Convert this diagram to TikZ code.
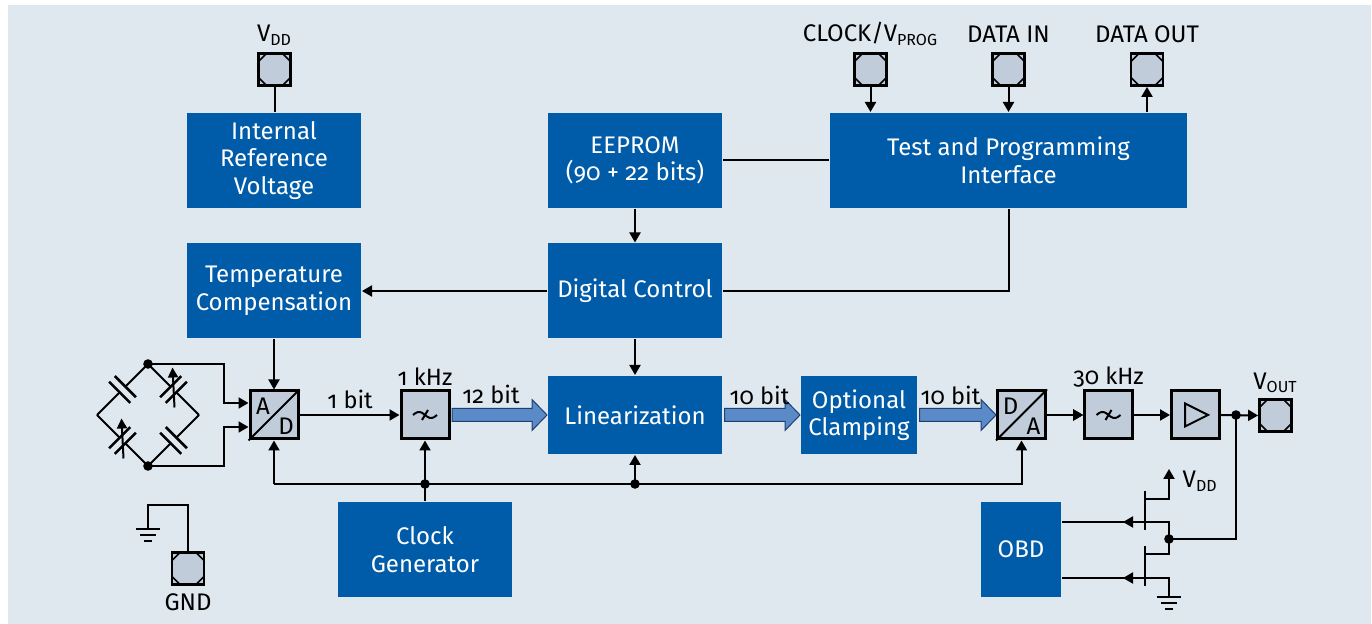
\documentclass[tikz,border=0pt]{standalone}
\usepackage{fontspec}
\setmainfont{Fira Sans}[Numbers=OldStyle]
\usetikzlibrary{arrows.meta,calc,positioning}
\definecolor{bggray}{HTML}{DFE7EF}
\definecolor{ifxblue}{HTML}{005CA9}
\definecolor{boxgray}{HTML}{C0CCDA}
\definecolor{busfill}{HTML}{5A8BC8}
\definecolor{busedge}{HTML}{1E3F70}
\tikzset{
  block/.style={fill=ifxblue, text=white, minimum width=87pt, minimum height=47.5pt,
    align=center, inner sep=0pt, font=\fontsize{12}{13.75}\selectfont},
  gbox/.style={draw, line width=1.5pt, fill=boxgray, minimum size=24pt, inner sep=0pt},
  pad/.style={draw, line width=1.4pt, fill=boxgray, minimum size=16pt, inner sep=0pt,
    path picture={\draw[line width=0.8pt]
      ([xshift=4pt]path picture bounding box.north west) -- ([xshift=-4pt]path picture bounding box.north east)
      -- ([yshift=-4pt]path picture bounding box.north east) -- ([yshift=4pt]path picture bounding box.south east)
      -- ([xshift=-4pt]path picture bounding box.south east) -- ([xshift=4pt]path picture bounding box.south west)
      -- ([yshift=4pt]path picture bounding box.south west) -- ([yshift=-4pt]path picture bounding box.north west) -- cycle;}},
  sig/.style={-{Triangle[length=5pt,width=5.5pt]}},
  lbl/.style={font=\fontsize{11.8}{13}\selectfont},
  padlbl/.style={font=\fontsize{12}{13}\selectfont},
  adlbl/.style={font=\fontsize{12}{13}\selectfont},
  fatbus/.style={fill=busfill, draw=busedge, line width=0.5pt}
}
\newcommand{\fatarrow}[2]{%
  \draw[fatbus] ($(#1.east)+(1.5,-6.5)$) -- ($(#2.west)+(-15,-6.5)$) -- ($(#2.west)+(-15,-15.5)$)
    -- (#2.west) -- ($(#2.west)+(-15,15.5)$) -- ($(#2.west)+(-15,6.5)$) -- ($(#1.east)+(1.5,6.5)$) -- cycle;}
\newcommand{\bridgecap}[3]{%
  \draw (#1) -- ($(#1)!0.5!(#2)!2pt!(#1)$);
  \draw (#2) -- ($(#1)!0.5!(#2)!2pt!(#2)$);
  \begin{scope}[shift={($(#1)!0.5!(#2)$)}, rotate=#3, line width=1.3pt]
    \draw (-4,-15) -- (-4,15);
    \draw (4,-15) -- (4,15);
  \end{scope}}
\newcommand{\gndsym}[1]{%
  \foreach \w/\d in {12/0,8/6,4/12}
    \draw ($(#1)+(-\w,\d)$) -- ($(#1)+(\w,\d)$);}

\begin{document}
\begin{tikzpicture}[x=0.5pt,y=-0.5pt,line width=1pt]
    \useasboundingbox (0,0) rectangle (1372,624);
    \fill[white] (0,0) rectangle (1372,624);
    \fill[bggray] (8,5) rectangle (1371,624);

    % Draw blue blocks.
    \node (iref) at (274,160.5) [block] {Internal\\Reference\\Voltage};
    \node (eeprom) at (635,160.5) [block] {EEPROM\\(90 + 22 bits)};
    \node (tpi) at (1008.5,160.5) [block, minimum width=178.5pt] {Test and Programming\\Interface};
    \node (tcomp) at (274,291) [block] {Temperature\\Compensation};
    \node (dctrl) at (635,291) [block] {Digital Control};
    \node (lin) at (635,415) [block, minimum height=39pt] {Linearization};
    \node (clamp) at (859,415) [block, minimum width=58pt, minimum height=39pt] {Optional\\Clamping};
    \node (clkgen) at (425,549.5) [block] {Clock\\Generator};
    \node (obd) at (1021,549.5) [block, minimum width=40pt] {OBD};

    % Draw gray signal boxes.
    \foreach \n/\x in {ad/274, lp1/425, da/1021.5, lp2/1108.5, amp/1195.5}
        \node (\n) at (\x,415) [gbox] {};
    \draw (ad.south west) -- (ad.north east);
    \draw (da.south west) -- (da.north east);
    \node (adA) at ($(ad)+(-11,-9)$) [adlbl] {A};
    \node (adD) at ($(ad)+(12,11)$) [adlbl] {D};
    \node (daD) at ($(da)+(-11,-9)$) [adlbl] {D};
    \node (daA) at ($(da)+(12,11)$) [adlbl] {A};
    \foreach \f in {lp1,lp2} {
        \draw[shift={(\f)}, domain=-12:12, samples=40, smooth] plot (\x, {3*sin(15*\x)});
        \draw[shift={(\f)}] (-3,5) -- (3,-5);
    }
    \draw ($(amp)+(-10.5,-11.5)$) -- ($(amp)+(12.5,0)$) -- ($(amp)+(-10.5,11.5)$) -- cycle;

    % Draw pads.
    \foreach \n/\x/\y in {vddpad/274.5/69.5, clkpad/870.5/69.5, dinpad/1008.5/69.5,
                          doutpad/1147/69.5, voutpad/1275.5/415.5, gndpad/188/568.5}
        \node (\n) at (\x,\y) [pad] {};
    \node (vddlab) at (274.5,35) [padlbl] {V\textsubscript{DD}};
    \node (clklab) at (870.5,34) [padlbl] {CLOCK/V\textsubscript{PROG}};
    \node (dinlab) at (1008.5,34) [padlbl] {DATA IN};
    \node (doutlab) at (1147,34) [padlbl] {DATA OUT};
    \node (voutlab) at (1275.5,383) [padlbl] {V\textsubscript{OUT}};
    \node (gndlab) at (188,602) [padlbl] {GND};

    % Connections in the upper part.
    \draw (vddpad.south) -- (vddpad.south |- iref.north);
    \draw[sig] (clkpad.south) -- (clkpad.south |- tpi.north);
    \draw[sig] (dinpad.south) -- (dinpad.south |- tpi.north);
    \draw[sig] (doutpad.south |- tpi.north) -- (doutpad.south);
    \draw (eeprom.east) -- (tpi.west);
    \draw[sig] (eeprom.south) -- (dctrl.north);
    \draw (tpi.south) |- (dctrl.east);
    \draw[sig] (dctrl.west) -- (tcomp.east);
    \draw[sig] (tcomp.south) -- (ad.north);
    \draw[sig] (dctrl.south) -- (lin.north);

    % Signal path.
    \draw[sig] (ad.east) -- (lp1.west);
    \foreach \a/\b in {lp1/lin, lin/clamp, clamp/da}
        \fatarrow{\a}{\b}
    \draw[sig] (da.east) -- (lp2.west);
    \draw[sig] (lp2.east) -- (amp.west);
    \draw[sig] (amp.east) -- (voutpad.west);
    \node (bit1) at (350,399) [lbl] {1 bit};
    \node (bit12) at (491,394) [lbl] {12 bit};
    \node (bit10a) at (759.5,395) [lbl] {10 bit};
    \node (bit10b) at (950.5,395) [lbl] {10 bit};
    \node (khz1) at (425,377) [lbl] {1 kHz};
    \node (khz30) at (1108.5,377) [lbl] {30 kHz};

    % Clock bus.
    \coordinate (bus) at (0,484);
    \draw[sig] (clkgen.north) -- (lp1.south);
    \draw[sig] (ad.south |- bus) -- (ad.south);
    \draw[sig] (ad.south |- bus) -| (da.south);
    \draw[sig] (lin.south |- bus) -- (lin.south);
    \fill (lp1.south |- bus) circle [radius=2.4pt];
    \fill (lin.south |- bus) circle [radius=2.4pt];

    % Sensor bridge.
    \coordinate (bt) at (148,364);
    \coordinate (bb) at (148,466);
    \coordinate (bl) at (97,415);
    \coordinate (br) at (199,415);
    \bridgecap{bl}{bt}{45}
    \bridgecap{bt}{br}{-45}
    \bridgecap{bb}{br}{45}
    \bridgecap{bl}{bb}{-45}
    \draw[-{Triangle[length=5pt,width=5pt]}, line width=1pt]
        ($($(bt)!0.5!(br)$)+(1,18)$) -- ($($(bt)!0.5!(br)$)+(-1,-22)$);
    \draw[-{Triangle[length=5pt,width=5pt]}, line width=1pt]
        ($($(bl)!0.5!(bb)$)+(1,18)$) -- ($($(bl)!0.5!(bb)$)+(-1,-22)$);
    \draw[sig] (bt) -| ($(ad.west)+(-25,-12)$) -- ($(ad.west)+(0,-12)$);
    \draw[sig] (bb) -| ($(ad.west)+(-25,12)$) -- ($(ad.west)+(0,12)$);
    \fill (bt) circle [radius=2.4pt];
    \fill (bb) circle [radius=2.4pt];

    % Ground pad.
    \coordinate (gnd1) at (148,529);
    \draw (gndpad.north) |- ($(gnd1)+(0,-24)$) -- (gnd1);
    \gndsym{gnd1}

    % Output stage with OBD transistors.
    \coordinate (vo) at (1236,415);
    \coordinate (onode) at (1169,539);
    \coordinate (vddtip) at (1169,469);
    \coordinate (g1) at (1123,522);
    \coordinate (g2) at (1123,578);
    \coordinate (gnd2) at (1169,597);
    \draw (vo) |- (onode);
    \draw (1145,491) -- (1145,530);
    \draw (1145,546) -- (1145,586);
    \draw[sig] (1145,499) -| (vddtip);
    \draw (obd.east |- g1) -| (onode);
    \draw (1145,554) -| (onode);
    \draw (obd.east |- g2) -| (gnd2);
    \draw[sig] ($(g1)+(22,0)$) -- (g1);
    \draw[sig] ($(g2)+(22,0)$) -- (g2);
    \gndsym{gnd2}
    \fill (vo) circle [radius=2.4pt];
    \fill (onode) circle [radius=2.4pt];
    \node (vddlab2) at (1175,481) [padlbl, anchor=west] {V\textsubscript{DD}};
\end{tikzpicture}
\end{document}
